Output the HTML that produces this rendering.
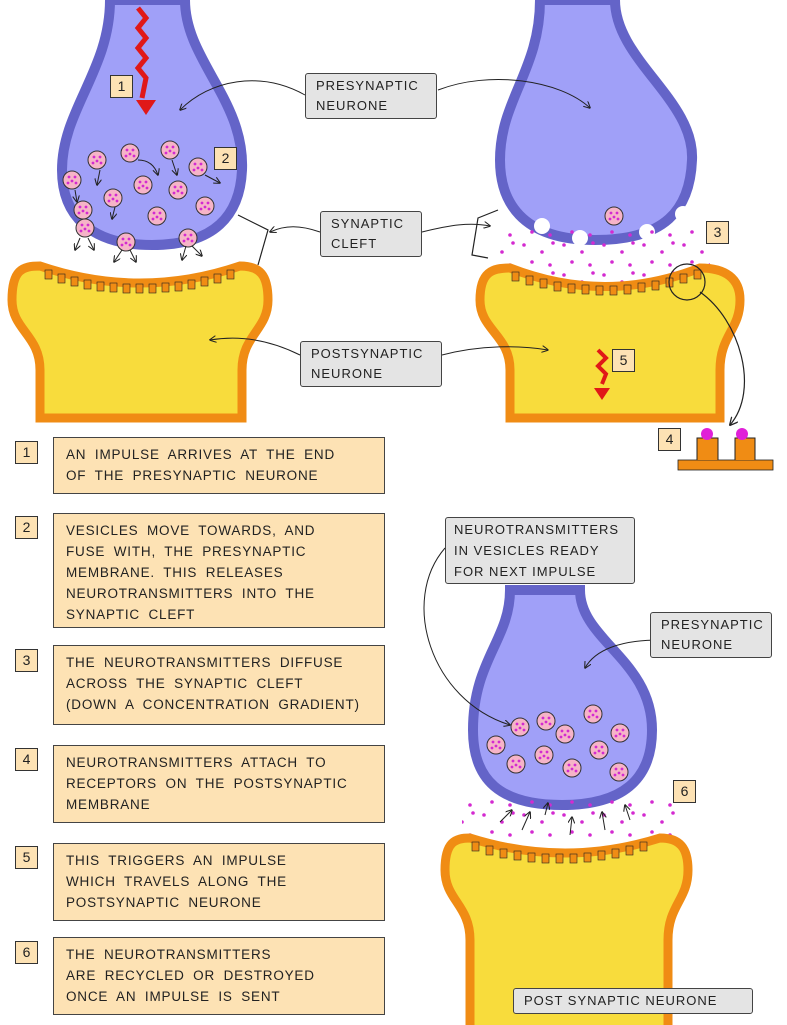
<!DOCTYPE html>
<html><head><meta charset="utf-8"><style>
html,body{margin:0;padding:0;background:#fff}
body{width:787px;height:1025px;position:relative;overflow:hidden;font-family:"Liberation Sans",sans-serif}
.n{position:absolute;width:21px;height:21px;border:1px solid #333;background:#fde2b4;font-size:14px;text-align:center;line-height:21px;color:#222}
.t{position:absolute;left:53px;width:332px;border:1px solid #444;background:#fde2b4;font-size:13.5px;letter-spacing:0.8px;color:#222;box-sizing:border-box;padding:6px 12px;line-height:21px;word-spacing:4px;white-space:nowrap}
.g{position:absolute;background:#e4e4e4;border:1px solid #444;font-size:13px;letter-spacing:1px;color:#222;line-height:20px;box-sizing:border-box;padding:2px 10px;border-radius:3px}
svg{position:absolute;left:0;top:0}
</style></head><body>
<svg width="787" height="1025" viewBox="0 0 787 1025">
<defs>
<pattern id="dots" width="40" height="30" patternUnits="userSpaceOnUse">
<circle cx="4" cy="5" r="1.8" fill="#d42ad0"/><circle cx="22" cy="12" r="1.8" fill="#d42ad0"/><circle cx="33" cy="3" r="1.8" fill="#d42ad0"/><circle cx="12" cy="22" r="1.8" fill="#d42ad0"/><circle cx="30" cy="25" r="1.8" fill="#d42ad0"/>
</pattern>
<marker id="ar" viewBox="0 0 10 10" refX="9" refY="5" markerWidth="7" markerHeight="7" orient="auto"><path d="M0,0 L10,5 L0,10" fill="none" stroke="#222" stroke-width="1.5"/></marker>
<g id="ves"><circle r="9" fill="#f6b4c8" stroke="#333" stroke-width="1"/><circle cx="-3" cy="-3" r="1.4" fill="#d42ad0"/><circle cx="3" cy="-3" r="1.4" fill="#d42ad0"/><circle cx="0" cy="1" r="1.4" fill="#d42ad0"/><circle cx="-4" cy="3" r="1.4" fill="#d42ad0"/><circle cx="4" cy="3" r="1.4" fill="#d42ad0"/></g>
</defs>

<!-- top-left presynaptic -->
<path d="M110,0 L185,0 C185,60 245,100 242,170 C240,215 215,245 152,245 C90,245 62,215 62,170 C62,110 110,70 110,0 Z" fill="#a0a0f8" stroke="#6464c8" stroke-width="10"/>
<path d="M138,8 l8,10 l-8,10 l8,10 l-8,10 l8,10 l-8,10 l8,10 l-4,20" fill="none" stroke="#e01818" stroke-width="5"/>
<path d="M136,100 L146,115 L156,100 Z" fill="#e01818"/>
<use href="#ves" x="97" y="160"/><use href="#ves" x="130" y="153"/><use href="#ves" x="170" y="150"/><use href="#ves" x="72" y="180"/><use href="#ves" x="143" y="185"/><use href="#ves" x="198" y="167"/><use href="#ves" x="113" y="198"/><use href="#ves" x="178" y="190"/><use href="#ves" x="205" y="206"/><use href="#ves" x="83" y="210"/><use href="#ves" x="157" y="216"/>
<use href="#ves" x="85" y="228"/><use href="#ves" x="126" y="242"/><use href="#ves" x="188" y="238"/>
<g fill="none" stroke="#222" stroke-width="1" marker-end="url(#ar)">
<path d="M80,238 l-5,12"/><path d="M88,238 l6,12"/><path d="M122,250 l-8,12"/><path d="M130,250 l6,12"/><path d="M186,246 l-4,14"/><path d="M192,246 l10,10"/>
<path d="M138,160 q15,0 20,15"/><path d="M100,170 l-3,15"/><path d="M172,160 l5,15"/><path d="M205,175 l15,8"/><path d="M115,207 l-3,12"/><path d="M75,190 l2,12"/>
</g>
<path d="M238,215 L268,230 L258,265" fill="none" stroke="#222" stroke-width="1.2"/>

<!-- top-left postsynaptic -->
<path d="M12,300 C12,270 22,266 40,266 Q140,300 240,266 C260,266 268,275 268,300 C268,330 242,335 242,370 L242,418 L40,418 L40,370 C40,335 12,330 12,300 Z" fill="#f8dc3c" stroke="#f08c14" stroke-width="9"/>
<g fill="#f08c14" stroke="#222" stroke-width="0.6">
<rect x="45" y="270" width="7" height="9"/><rect x="58" y="274" width="7" height="9"/><rect x="71" y="277" width="7" height="9"/><rect x="84" y="280" width="7" height="9"/><rect x="97" y="282" width="7" height="9"/><rect x="110" y="283" width="7" height="9"/><rect x="123" y="284" width="7" height="9"/><rect x="136" y="284" width="7" height="9"/><rect x="149" y="284" width="7" height="9"/><rect x="162" y="283" width="7" height="9"/><rect x="175" y="282" width="7" height="9"/><rect x="188" y="280" width="7" height="9"/><rect x="201" y="277" width="7" height="9"/><rect x="214" y="274" width="7" height="9"/><rect x="227" y="270" width="7" height="9"/>
</g>

<!-- top-right presynaptic -->
<path d="M540,0 L615,0 C615,60 695,100 692,160 C690,210 665,240 595,240 C520,240 500,200 500,160 C500,100 540,70 540,0 Z" fill="#a0a0f8" stroke="#6464c8" stroke-width="10"/>
<circle cx="542" cy="226" r="8" fill="#fff"/><circle cx="580" cy="238" r="8" fill="#fff"/><circle cx="647" cy="232" r="8" fill="#fff"/><circle cx="683" cy="214" r="8" fill="#fff"/>
<use href="#ves" x="614" y="216"/>
<rect x="495" y="228" width="215" height="60" fill="url(#dots)"/>
<path d="M498,210 L478,218 L472,255 L488,258" fill="none" stroke="#222" stroke-width="1.2"/>
<!-- top-right postsynaptic -->
<path d="M480,300 C480,272 492,268 510,268 Q605,305 700,268 C725,268 740,278 740,300 C740,330 720,335 720,370 L720,418 L510,418 L510,370 C510,335 480,330 480,300 Z" fill="#f8dc3c" stroke="#f08c14" stroke-width="9"/>
<g fill="#f08c14" stroke="#222" stroke-width="0.6">
<rect x="512" y="272" width="7" height="9"/><rect x="526" y="276" width="7" height="9"/><rect x="540" y="279" width="7" height="9"/><rect x="554" y="282" width="7" height="9"/><rect x="568" y="284" width="7" height="9"/><rect x="582" y="285" width="7" height="9"/><rect x="596" y="286" width="7" height="9"/><rect x="610" y="286" width="7" height="9"/><rect x="624" y="285" width="7" height="9"/><rect x="638" y="283" width="7" height="9"/><rect x="652" y="281" width="7" height="9"/><rect x="666" y="278" width="7" height="9"/><rect x="680" y="274" width="7" height="9"/><rect x="694" y="270" width="7" height="9"/>
</g>
<circle cx="687" cy="282" r="18" fill="none" stroke="#222" stroke-width="1.2"/>
<path d="M700,292 C740,320 760,390 730,425" fill="none" stroke="#222" stroke-width="1.2" marker-end="url(#ar)"/>
<path d="M598,350 l8,8 l-8,8 l8,8 l-4,10" fill="none" stroke="#e01818" stroke-width="4"/>
<path d="M594,388 L602,400 L610,388 Z" fill="#e01818"/>
<!-- 4 receptor -->
<rect x="678" y="460" width="95" height="10" fill="#f08c14" stroke="#222" stroke-width="0.8"/>
<path d="M697,460 L697,438 L718,438 L718,460" fill="#f08c14" stroke="#222"/><path d="M735,460 L735,438 L755,438 L755,460" fill="#f08c14" stroke="#222"/>
<circle cx="707" cy="434" r="6" fill="#e020d8"/><circle cx="742" cy="434" r="6" fill="#e020d8"/>

<!-- connectors top -->
<g fill="none" stroke="#222" stroke-width="1" marker-end="url(#ar)">
<path d="M305,95 C260,70 210,80 180,110"/><path d="M438,90 C490,70 560,80 590,108"/>
<path d="M320,232 C300,225 285,225 270,232"/><path d="M422,232 C450,225 470,222 490,226"/>
<path d="M300,355 C270,340 240,335 210,340"/><path d="M442,355 C480,345 520,345 548,350"/>
</g>

<!-- bottom presynaptic -->
<path d="M510,590 L580,590 C580,640 652,660 652,730 C652,780 622,805 562,805 C500,805 473,780 473,730 C473,660 510,640 510,590 Z" fill="#a0a0f8" stroke="#6464c8" stroke-width="10"/>
<use href="#ves" x="520" y="727"/><use href="#ves" x="546" y="721"/><use href="#ves" x="593" y="714"/><use href="#ves" x="496" y="745"/><use href="#ves" x="544" y="755"/><use href="#ves" x="565" y="734"/><use href="#ves" x="620" y="733"/><use href="#ves" x="516" y="764"/><use href="#ves" x="572" y="768"/><use href="#ves" x="619" y="772"/><use href="#ves" x="599" y="750"/>
<rect x="462" y="800" width="215" height="40" fill="url(#dots)"/>
<g fill="none" stroke="#222" stroke-width="1" marker-end="url(#ar)">
<path d="M500,822 l12,-12"/><path d="M522,830 l8,-18"/><path d="M545,815 l3,-12"/><path d="M570,835 l2,-18"/><path d="M605,830 l-3,-18"/><path d="M630,820 l-5,-15"/>
<path d="M445,548 C400,600 430,700 510,725"/><path d="M660,640 C620,640 595,650 585,668"/>
<path d="M515,1000 C470,1000 460,960 470,930 C480,910 500,895 520,890"/>
</g>
<!-- bottom postsynaptic -->
<path d="M445,870 C445,842 455,838 470,838 Q565,868 660,838 C680,838 688,848 688,870 C688,900 668,905 668,940 L668,1030 L470,1030 L470,940 C470,905 445,900 445,870 Z" fill="#f8dc3c" stroke="#f08c14" stroke-width="9"/>
<g fill="#f08c14" stroke="#222" stroke-width="0.6">
<rect x="472" y="842" width="7" height="9"/><rect x="486" y="846" width="7" height="9"/><rect x="500" y="849" width="7" height="9"/><rect x="514" y="851" width="7" height="9"/><rect x="528" y="853" width="7" height="9"/><rect x="542" y="854" width="7" height="9"/><rect x="556" y="854" width="7" height="9"/><rect x="570" y="854" width="7" height="9"/><rect x="584" y="853" width="7" height="9"/><rect x="598" y="851" width="7" height="9"/><rect x="612" y="849" width="7" height="9"/><rect x="626" y="846" width="7" height="9"/><rect x="640" y="842" width="7" height="9"/>
</g>
</svg>

<div class="n" style="left:110px;top:75px">1</div>
<div class="n" style="left:214px;top:147px">2</div>
<div class="n" style="left:706px;top:221px">3</div>
<div class="n" style="left:612px;top:349px">5</div>
<div class="n" style="left:658px;top:428px">4</div>
<div class="n" style="left:673px;top:780px">6</div>

<div class="g" style="left:305px;top:73px;width:132px">PRESYNAPTIC<br>NEURONE</div>
<div class="g" style="left:320px;top:211px;width:102px">SYNAPTIC<br>CLEFT</div>
<div class="g" style="left:300px;top:341px;width:142px">POSTSYNAPTIC<br>NEURONE</div>
<div class="g" style="left:445px;top:517px;width:190px;line-height:21px;padding:1px 8px">NEUROTRANSMITTERS<br>IN VESICLES READY<br>FOR NEXT IMPULSE</div>
<div class="g" style="left:650px;top:612px;width:122px">PRESYNAPTIC<br>NEURONE</div>
<div class="g" style="left:513px;top:988px;width:240px;height:26px">POST SYNAPTIC NEURONE</div>

<div class="n" style="left:15px;top:441px">1</div>
<div class="t" style="top:437px;height:57px">AN IMPULSE ARRIVES AT THE END<br>OF THE PRESYNAPTIC NEURONE</div>
<div class="n" style="left:15px;top:516px">2</div>
<div class="t" style="top:513px;height:115px">VESICLES MOVE TOWARDS, AND<br>FUSE WITH, THE PRESYNAPTIC<br>MEMBRANE. THIS RELEASES<br>NEUROTRANSMITTERS INTO THE<br>SYNAPTIC CLEFT</div>
<div class="n" style="left:15px;top:649px">3</div>
<div class="t" style="top:645px;height:80px">THE NEUROTRANSMITTERS DIFFUSE<br>ACROSS THE SYNAPTIC CLEFT<br>(DOWN A CONCENTRATION GRADIENT)</div>
<div class="n" style="left:15px;top:748px">4</div>
<div class="t" style="top:745px;height:78px">NEUROTRANSMITTERS ATTACH TO<br>RECEPTORS ON THE POSTSYNAPTIC<br>MEMBRANE</div>
<div class="n" style="left:15px;top:846px">5</div>
<div class="t" style="top:843px;height:78px">THIS TRIGGERS AN IMPULSE<br>WHICH TRAVELS ALONG THE<br>POSTSYNAPTIC NEURONE</div>
<div class="n" style="left:15px;top:941px">6</div>
<div class="t" style="top:937px;height:78px">THE NEUROTRANSMITTERS<br>ARE RECYCLED OR DESTROYED<br>ONCE AN IMPULSE IS SENT</div>
</body></html>
